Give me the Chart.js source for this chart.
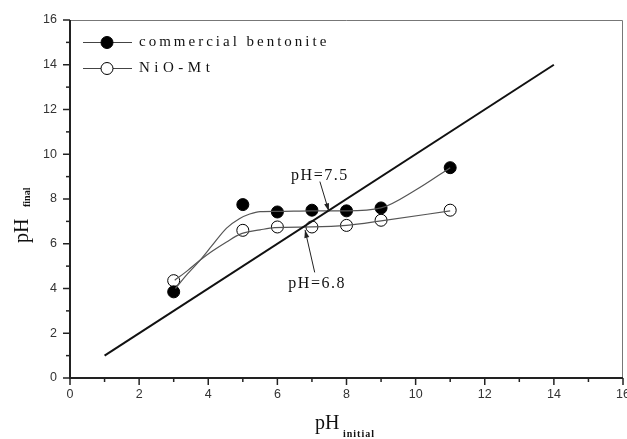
<!DOCTYPE html>
<html>
<head>
<meta charset="utf-8">
<script src="https://cdn.jsdelivr.net/npm/chart.js@4"></script>
<style>
  html, body { margin: 0; padding: 0; background: #fff; }
  #wrap { width: 627px; height: 439px; }
</style>
</head>
<body>
<div id="wrap"><canvas id="chart" width="627" height="439"></canvas></div>
<script>
// valores
const phInicial = [3, 5, 6, 7, 8, 9, 11];
const bentonitaFinal = [3.85, 7.75, 7.42, 7.5, 7.47, 7.6, 9.4];
const nioFinal = [4.35, 6.6, 6.75, 6.75, 6.82, 7.05, 7.5];

// curvas de ajuste (linhas cinzas)
const ajusteBentX = [3.05, 3.4, 3.76, 4.1, 4.53, 4.9, 5.2, 5.5, 6, 7, 8, 9, 10, 11];
const ajusteBentY = [4.0, 4.65, 5.26, 5.9, 6.7, 7.12, 7.33, 7.44, 7.45, 7.47, 7.47, 7.6, 8.4, 9.4];
const ajusteNioX = [3.03, 3.4, 3.76, 4.1, 4.53, 4.96, 5.5, 5.92, 7, 8, 9, 11];
const ajusteNioY = [4.37, 4.8, 5.26, 5.65, 6.08, 6.45, 6.62, 6.72, 6.75, 6.82, 7.02, 7.47];

// reta pH final = pH inicial
const retaX = [1, 14];
const retaY = [1, 14];

const xTicks = [0, 2, 4, 6, 8, 10, 12, 14, 16];
const yTicks = [0, 2, 4, 6, 8, 10, 12, 14, 16];

const legendas = ["commercial bentonite", "NiO-Mt"];
// anotações: texto, posição do texto (linha de base), início e fim da seta
const anotacoes = [
  { texto: "pH=7.5", tx: 7.23, ty: 8.84, x1: 7.23, y1: 8.78, x2: 7.49, y2: 7.45 },
  { texto: "pH=6.8", tx: 7.15, ty: 4.01, x1: 7.08, y1: 4.72, x2: 6.8, y2: 6.62 }
];

const pares = (xs, ys) => xs.map((x, i) => ({ x, y: ys[i] }));

const serif = "'Liberation Serif', 'DejaVu Serif', serif";
const tickFont = "'Liberation Sans', Arial, sans-serif";

function marcador(ctx, x, y, cheio) {
  ctx.beginPath();
  ctx.arc(x, y, 6, 0, Math.PI * 2);
  ctx.fillStyle = cheio ? "#000" : "#fff";
  ctx.fill();
  ctx.lineWidth = 1;
  ctx.strokeStyle = "#000";
  ctx.stroke();
}

function seta(ctx, x1, y1, x2, y2) {
  ctx.beginPath();
  ctx.moveTo(x1, y1);
  ctx.lineTo(x2, y2);
  ctx.strokeStyle = "#222";
  ctx.lineWidth = 1;
  ctx.stroke();
  const ang = Math.atan2(y2 - y1, x2 - x1);
  const L = 8, W = 2.5;
  ctx.beginPath();
  ctx.moveTo(x2, y2);
  ctx.lineTo(x2 - L * Math.cos(ang) + W * Math.sin(ang), y2 - L * Math.sin(ang) - W * Math.cos(ang));
  ctx.lineTo(x2 - L * Math.cos(ang) - W * Math.sin(ang), y2 - L * Math.sin(ang) + W * Math.cos(ang));
  ctx.closePath();
  ctx.fillStyle = "#222";
  ctx.fill();
}

const extras = {
  id: "extras",
  afterDraw(chart) {
    const { ctx, chartArea: a, scales: { x, y } } = chart;
    ctx.save();

    // caixa: topo e direita finos
    ctx.strokeStyle = "#777";
    ctx.lineWidth = 1;
    ctx.beginPath();
    ctx.moveTo(a.left, a.top + 0.5);
    ctx.lineTo(a.right - 0.5, a.top + 0.5);
    ctx.lineTo(a.right - 0.5, a.bottom);
    ctx.stroke();

    // eixos esquerdo e inferior grossos
    ctx.strokeStyle = "#222";
    ctx.lineWidth = 2;
    ctx.beginPath();
    ctx.moveTo(a.left, a.top);
    ctx.lineTo(a.left, a.bottom);
    ctx.lineTo(a.right, a.bottom);
    ctx.stroke();

    // marcas (maiores e menores)
    ctx.lineWidth = 1.5;
    for (let v = 0; v <= 16; v++) {
      const len = v % 2 === 0 ? 7 : 4;
      const px = x.getPixelForValue(v);
      ctx.beginPath();
      ctx.moveTo(px, a.bottom);
      ctx.lineTo(px, a.bottom + len);
      ctx.stroke();
      const py = y.getPixelForValue(v);
      ctx.beginPath();
      ctx.moveTo(a.left, py);
      ctx.lineTo(a.left - len, py);
      ctx.stroke();
    }

    // rótulos das marcas
    ctx.fillStyle = "#333";
    ctx.font = "12.5px " + tickFont;
    ctx.textBaseline = "middle";
    ctx.textAlign = "center";
    xTicks.forEach(v => ctx.fillText(String(v), x.getPixelForValue(v), a.bottom + 17));
    ctx.textAlign = "right";
    yTicks.forEach(v => ctx.fillText(String(v), a.left - 13, y.getPixelForValue(v)));

    // legenda
    const legY = [42.5, 68.5];
    legendas.forEach((txt, i) => {
      ctx.strokeStyle = "#444";
      ctx.lineWidth = 1.2;
      ctx.beginPath();
      ctx.moveTo(83, legY[i]);
      ctx.lineTo(132, legY[i]);
      ctx.stroke();
      marcador(ctx, 107, legY[i], i === 0);
      ctx.fillStyle = "#111";
      ctx.font = "15px " + serif;
      ctx.letterSpacing = i === 0 ? "3px" : "4.5px";
      ctx.textAlign = "left";
      ctx.textBaseline = "middle";
      ctx.fillText(txt, 139, legY[i]);
    });
    ctx.letterSpacing = "0px";

    // anotações com setas
    anotacoes.forEach(an => {
      seta(ctx, x.getPixelForValue(an.x1), y.getPixelForValue(an.y1),
                x.getPixelForValue(an.x2), y.getPixelForValue(an.y2));
      ctx.fillStyle = "#111";
      ctx.font = "16px " + serif;
      ctx.letterSpacing = "1.5px";
      ctx.textAlign = "center";
      ctx.textBaseline = "alphabetic";
      ctx.fillText(an.texto, x.getPixelForValue(an.tx), y.getPixelForValue(an.ty));
    });
    ctx.letterSpacing = "0px";

    // título eixo x: pH initial
    ctx.fillStyle = "#111";
    ctx.textBaseline = "alphabetic";
    ctx.textAlign = "left";
    ctx.font = "20px " + serif;
    ctx.fillText("pH", 315, 429);
    ctx.font = "bold 10px " + serif;
    ctx.letterSpacing = "1px";
    ctx.fillText("initial", 343, 437);
    ctx.letterSpacing = "0px";

    // título eixo y: pH final
    ctx.save();
    ctx.translate(28, 243);
    ctx.rotate(-Math.PI / 2);
    ctx.font = "20px " + serif;
    ctx.fillText("pH", 0, 0);
    ctx.font = "bold 10px " + serif;
    ctx.fillText("final", 36, 2);
    ctx.restore();

    ctx.restore();
  }
};

new Chart(document.getElementById("chart"), {
  type: "scatter",
  data: {
    datasets: [
      {
        label: "pH final = pH inicial",
        data: pares(retaX, retaY),
        showLine: true,
        borderColor: "#111",
        borderWidth: 2,
        pointRadius: 0
      },
      {
        label: "ajuste bentonita",
        data: pares(ajusteBentX, ajusteBentY),
        showLine: true,
        cubicInterpolationMode: "monotone",
        borderColor: "#555",
        borderWidth: 1.2,
        pointRadius: 0
      },
      {
        label: "ajuste NiO-Mt",
        data: pares(ajusteNioX, ajusteNioY),
        showLine: true,
        cubicInterpolationMode: "monotone",
        borderColor: "#555",
        borderWidth: 1.2,
        pointRadius: 0
      },
      {
        label: legendas[0],
        data: pares(phInicial, bentonitaFinal),
        pointRadius: 6,
        pointBackgroundColor: "#000",
        pointBorderColor: "#000",
        pointBorderWidth: 1
      },
      {
        label: legendas[1],
        data: pares(phInicial, nioFinal),
        pointRadius: 6,
        pointBackgroundColor: "#fff",
        pointBorderColor: "#000",
        pointBorderWidth: 1
      }
    ]
  },
  options: {
    responsive: false,
    animation: false,
    layout: { autoPadding: false, padding: { top: 20, right: 4, left: 0, bottom: 0 } },
    plugins: {
      legend: { display: false },
      tooltip: { enabled: false }
    },
    scales: {
      x: {
        type: "linear",
        min: 0,
        max: 16,
        afterBuildTicks: s => { s.ticks = xTicks.map(v => ({ value: v })); },
        afterFit: s => { s.height = 61; },
        grid: { display: false, drawTicks: false },
        border: { display: false },
        ticks: { display: false }
      },
      y: {
        type: "linear",
        min: 0,
        max: 16,
        afterBuildTicks: s => { s.ticks = yTicks.map(v => ({ value: v })); },
        afterFit: s => { s.width = 70; },
        grid: { display: false, drawTicks: false },
        border: { display: false },
        ticks: { display: false }
      }
    }
  },
  plugins: [extras]
});
</script>
</body>
</html>
